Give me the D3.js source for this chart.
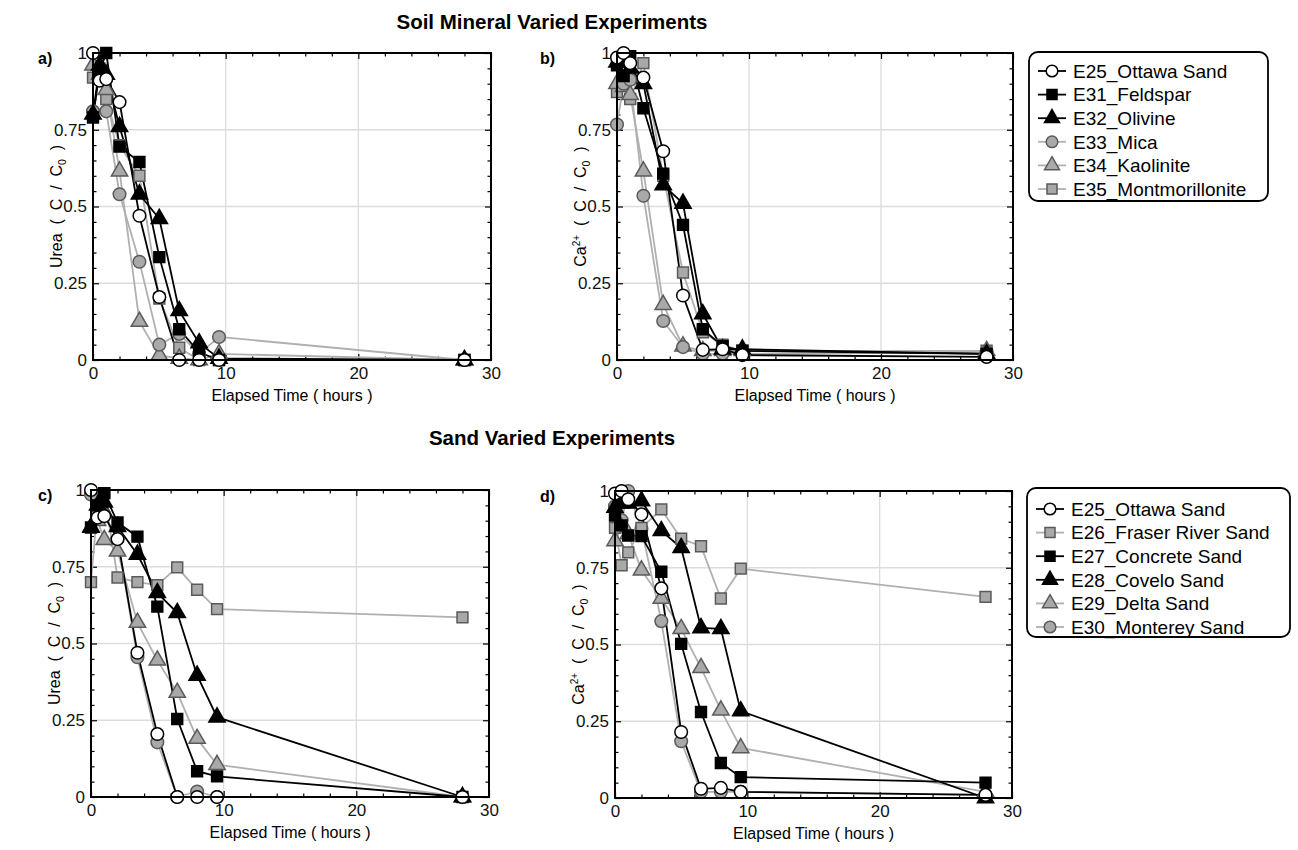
<!DOCTYPE html>
<html><head><meta charset="utf-8">
<script src="https://cdn.jsdelivr.net/npm/d3@7"></script>
<style>
body{margin:0;background:#fff}
text{font-family:"Liberation Sans",Arial,Helvetica,sans-serif}
.ytitle{white-space:pre}
</style>
</head><body>
<svg id="chart" width="1298" height="850"></svg>
<script>
// ---------------- DATA ----------------
const times = [0, 0.5, 1, 2, 3.5, 5, 6.5, 8, 9.5, 28];
const xMajorTicks = [0, 10, 20, 30];
const yMajorTicks = [0, 0.25, 0.5, 0.75, 1];

const mineralNames = ["E25_Ottawa Sand","E31_Feldspar","E32_Olivine","E33_Mica","E34_Kaolinite","E35_Montmorillonite"];
const sandNames = ["E25_Ottawa Sand","E26_Fraser River Sand","E27_Concrete Sand","E28_Covelo Sand","E29_Delta Sand","E30_Monterey Sand"];

// a) Urea, soil minerals
const ureaE25 = [1.0, 0.91, 0.915, 0.84, 0.47, 0.205, 0.0, 0.0, 0.0, 0.0];
const ureaE31 = [0.79, 0.94, 1.0, 0.695, 0.645, 0.335, 0.10, 0.025, 0.0, 0.0];
const ureaE32 = [0.80, 0.96, 0.93, 0.76, 0.54, 0.46, 0.16, 0.055, 0.005, 0.0];
const ureaE33 = [0.81, 0.93, 0.81, 0.54, 0.32, 0.05, 0.085, 0.02, 0.075, 0.0];
const ureaE34 = [0.96, 0.93, 0.88, 0.615, 0.125, 0.015, 0.005, 0.0, 0.02, 0.0];
const ureaE35 = [0.92, 0.95, 0.85, 0.70, 0.60, 0.20, 0.04, 0.0, 0.0, 0.0];

// b) Ca2+, soil minerals
const caE25 = [0.985, 1.0, 0.967, 0.92, 0.68, 0.21, 0.033, 0.035, 0.016, 0.01];
const caE31 = [0.96, 0.925, 0.99, 0.82, 0.607, 0.44, 0.10, 0.045, 0.03, 0.02];
const caE32 = [0.97, 0.97, 0.95, 0.90, 0.57, 0.51, 0.15, 0.035, 0.035, 0.02];
const caE33 = [0.767, 0.90, 0.913, 0.535, 0.127, 0.042, 0.02, 0.02, 0.02, 0.025];
const caE34 = [0.90, 0.89, 0.864, 0.615, 0.18, 0.045, 0.03, 0.03, 0.03, 0.03];
const caE35 = [0.873, 0.90, 0.85, 0.967, 0.60, 0.285, 0.09, 0.05, 0.03, 0.03];

// c) Urea, sands
const sUreaE25 = [1.0, 0.91, 0.915, 0.84, 0.47, 0.205, 0.0, 0.0, 0.0, 0.0];
const sUreaE26 = [0.70, 0.95, 0.99, 0.715, 0.70, 0.69, 0.748, 0.675, 0.612, 0.585];
const sUreaE27 = [0.878, 0.95, 0.99, 0.894, 0.848, 0.62, 0.254, 0.084, 0.067, 0.0];
const sUreaE28 = [0.878, 0.95, 0.96, 0.88, 0.79, 0.665, 0.60, 0.396, 0.26, 0.0];
const sUreaE29 = [0.88, 0.90, 0.838, 0.80, 0.568, 0.445, 0.34, 0.19, 0.105, 0.0];
const sUreaE30 = [0.985, 0.93, 0.92, 0.84, 0.455, 0.178, 0.0, 0.018, 0.0, 0.0];

// d) Ca2+, sands
const sCaE25 = [0.992, 1.0, 0.973, 0.924, 0.683, 0.215, 0.03, 0.033, 0.02, 0.01];
const sCaE26 = [0.88, 0.758, 0.80, 0.88, 0.94, 0.845, 0.82, 0.65, 0.747, 0.655];
const sCaE27 = [0.92, 0.888, 0.855, 0.853, 0.737, 0.502, 0.28, 0.114, 0.068, 0.05];
const sCaE28 = [0.946, 0.96, 0.96, 0.967, 0.87, 0.815, 0.554, 0.551, 0.283, 0.0];
const sCaE29 = [0.837, 0.88, 0.86, 0.742, 0.65, 0.551, 0.424, 0.286, 0.163, 0.02];
const sCaE30 = [0.95, 0.905, 1.0, 0.877, 0.576, 0.185, 0.02, 0.02, 0.02, 0.01];

// ---------------- STYLES ----------------
const BLACK = "#000", GRAYLINE = "#b0b0b0", GRAYFILL = "#a9a9a9", GRAYSTROKE = "#5a5a5a";
const styles = {
  E25: {shape: d3.symbolCircle, size: 125, fill: "#fff", stroke: BLACK, line: BLACK, z: 3},
  E31: {shape: d3.symbolSquare, size: 118, fill: BLACK, stroke: BLACK, line: BLACK, z: 2},
  E32: {shape: d3.symbolTriangle, size: 115, fill: BLACK, stroke: BLACK, line: BLACK, z: 2},
  E33: {shape: d3.symbolCircle, size: 125, fill: GRAYFILL, stroke: GRAYSTROKE, line: GRAYLINE, z: 1},
  E34: {shape: d3.symbolTriangle, size: 115, fill: GRAYFILL, stroke: GRAYSTROKE, line: GRAYLINE, z: 1},
  E35: {shape: d3.symbolSquare, size: 118, fill: GRAYFILL, stroke: GRAYSTROKE, line: GRAYLINE, z: 1},
  E26: {shape: d3.symbolSquare, size: 118, fill: GRAYFILL, stroke: GRAYSTROKE, line: GRAYLINE, z: 1},
  E27: {shape: d3.symbolSquare, size: 118, fill: BLACK, stroke: BLACK, line: BLACK, z: 2},
  E28: {shape: d3.symbolTriangle, size: 115, fill: BLACK, stroke: BLACK, line: BLACK, z: 2},
  E29: {shape: d3.symbolTriangle, size: 115, fill: GRAYFILL, stroke: GRAYSTROKE, line: GRAYLINE, z: 1},
  E30: {shape: d3.symbolCircle, size: 125, fill: GRAYFILL, stroke: GRAYSTROKE, line: GRAYLINE, z: 1}
};

const panels = [
  {label: "a)", ytitle: "urea", x0: 93, x1: 491, y0: 53, y1: 360, lx: 38, tx: 62,
   names: mineralNames, series: [ureaE25, ureaE31, ureaE32, ureaE33, ureaE34, ureaE35]},
  {label: "b)", ytitle: "ca", x0: 617, x1: 1013, y0: 53, y1: 360, lx: 540, tx: 586,
   names: mineralNames, series: [caE25, caE31, caE32, caE33, caE34, caE35]},
  {label: "c)", ytitle: "urea", x0: 91, x1: 489, y0: 490, y1: 797, lx: 38, tx: 60,
   names: sandNames, series: [sUreaE25, sUreaE26, sUreaE27, sUreaE28, sUreaE29, sUreaE30]},
  {label: "d)", ytitle: "ca", x0: 615, x1: 1012, y0: 491, y1: 798, lx: 540, tx: 584,
   names: sandNames, series: [sCaE25, sCaE26, sCaE27, sCaE28, sCaE29, sCaE30]}
];

const svg = d3.select("#chart");
const TICKFONT = 17, LABELFONT = 16;

function keyOf(name){ return name.slice(0,3); }

function drawPanel(p){
  const x = d3.scaleLinear().domain([0,30]).range([p.x0,p.x1]);
  const y = d3.scaleLinear().domain([0,1]).range([p.y1,p.y0]);
  const g = svg.append("g");
  // grid
  g.selectAll(".gx").data([10,20]).enter().append("line")
    .attr("x1", d=>x(d)).attr("x2", d=>x(d)).attr("y1", p.y0).attr("y2", p.y1)
    .attr("stroke", "#dcdcdc").attr("stroke-width", 1.3);
  g.selectAll(".gy").data([0.25,0.5,0.75]).enter().append("line")
    .attr("y1", d=>y(d)).attr("y2", d=>y(d)).attr("x1", p.x0).attr("x2", p.x1)
    .attr("stroke", "#dcdcdc").attr("stroke-width", 1.3);

  const xMinor = d3.range(0, 31, 2).filter(v=>xMajorTicks.indexOf(v)<0);
  const yMinor = d3.range(0, 1.0001, 0.05).map(v=>+v.toFixed(2)).filter(v=>yMajorTicks.indexOf(v)<0);

  function ax(axis, tf){
    const gg = g.append("g").attr("transform", tf).call(axis);
    gg.select(".domain").remove();
    gg.selectAll(".tick line").attr("stroke", BLACK).attr("stroke-width", 1.2);
    gg.selectAll("text").attr("font-size", TICKFONT).attr("fill", "#111")
      .style("font-family", '"Liberation Sans",Arial,sans-serif');
    return gg;
  }
  // bottom
  ax(d3.axisBottom(x).tickValues(xMajorTicks).tickSize(-6).tickPadding(7).tickFormat(d3.format("d")), `translate(0,${p.y1})`);
  ax(d3.axisBottom(x).tickValues(xMinor).tickSize(-3.5).tickFormat(""), `translate(0,${p.y1})`);
  // top
  ax(d3.axisTop(x).tickValues(xMajorTicks).tickSize(-6).tickFormat(""), `translate(0,${p.y0})`);
  ax(d3.axisTop(x).tickValues(xMinor).tickSize(-3.5).tickFormat(""), `translate(0,${p.y0})`);
  // left
  ax(d3.axisLeft(y).tickValues(yMajorTicks).tickSize(-6).tickPadding(6).tickFormat(d=>String(d)), `translate(${p.x0},0)`);
  ax(d3.axisLeft(y).tickValues(yMinor).tickSize(-3.5).tickFormat(""), `translate(${p.x0},0)`);
  // right
  ax(d3.axisRight(y).tickValues(yMajorTicks).tickSize(-6).tickFormat(""), `translate(${p.x1},0)`);
  ax(d3.axisRight(y).tickValues(yMinor).tickSize(-3.5).tickFormat(""), `translate(${p.x1},0)`);

  // series
  const order = p.names.map((n,i)=>({n, i, s: styles[keyOf(n)]}))
    .sort((a,b)=> a.s.z - b.s.z || b.i - a.i);
  const line = d3.line().x(d=>x(d[0])).y(d=>y(d[1]));
  order.forEach(o=>{
    const pts = times.map((t,k)=>[t, p.series[o.i][k]]);
    g.append("path").attr("d", line(pts)).attr("fill","none")
      .attr("stroke", o.s.line).attr("stroke-width", 1.8);
  });
  order.forEach(o=>{
    const pts = times.map((t,k)=>[t, p.series[o.i][k]]);
    g.selectAll(null).data(pts).enter().append("path")
      .attr("d", d3.symbol().type(o.s.shape).size(o.s.size))
      .attr("transform", d=>`translate(${x(d[0])},${y(d[1])})`)
      .attr("fill", o.s.fill).attr("stroke", o.s.stroke).attr("stroke-width", 1.5);
  });

  // frame
  g.append("rect").attr("x", p.x0).attr("y", p.y0).attr("width", p.x1-p.x0).attr("height", p.y1-p.y0)
    .attr("fill","none").attr("stroke", BLACK).attr("stroke-width", 2);

  // x title
  g.append("text").attr("x", (p.x0+p.x1)/2).attr("y", p.y1+41).attr("text-anchor","middle")
    .attr("font-size", LABELFONT).text("Elapsed Time ( hours )");

  // y title
  const yt = g.append("text").attr("class","ytitle")
    .attr("transform", `translate(${p.tx},${(p.y0+p.y1)/2}) rotate(-90)`)
    .attr("text-anchor","middle").attr("font-size", LABELFONT);
  if (p.ytitle === "urea") {
    yt.append("tspan").text("Urea  (  C  /  C");
  } else {
    yt.append("tspan").text("Ca");
    yt.append("tspan").attr("font-size", 10).attr("dy", -6).text("2+");
    yt.append("tspan").attr("dy", 6).text("  (  C  /  C");
  }
  yt.append("tspan").attr("font-size", 10.5).attr("dy", 4).text("0");
  yt.append("tspan").attr("dy", -4).text("  )");

  // panel label
  g.append("text").attr("x", p.lx).attr("y", p.y0+11).attr("font-size", 16)
    .attr("font-weight","bold").text(p.label);
}

panels.forEach(drawPanel);

// Titles
svg.append("text").attr("x", 552).attr("y", 29).attr("text-anchor","middle")
  .attr("font-size", 20.5).attr("font-weight","bold").text("Soil Mineral Varied Experiments");
svg.append("text").attr("x", 552).attr("y", 445).attr("text-anchor","middle")
  .attr("font-size", 20.5).attr("font-weight","bold").text("Sand Varied Experiments");

// Legends
function legend(names, bx, by, bw, bh, rowY0, step){
  const g = svg.append("g");
  g.append("rect").attr("x", bx).attr("y", by).attr("width", bw).attr("height", bh)
    .attr("rx", 9).attr("fill","#fff").attr("stroke", BLACK).attr("stroke-width", 1.8);
  names.forEach((n,i)=>{
    const s = styles[keyOf(n)];
    const yy = rowY0 + i*step;
    g.append("line").attr("x1", bx+9).attr("x2", bx+37).attr("y1", yy).attr("y2", yy)
      .attr("stroke", s.line).attr("stroke-width", 1.8);
    g.append("path").attr("d", d3.symbol().type(s.shape).size(s.size*0.85))
      .attr("transform", `translate(${bx+23},${yy})`)
      .attr("fill", s.fill).attr("stroke", s.stroke).attr("stroke-width", 1.5);
    g.append("text").attr("x", bx+44).attr("y", yy+6.8).attr("font-size", 19).text(n);
  });
}
legend(mineralNames, 1029, 52, 239, 149, 71, 23.6);
legend(sandNames, 1027, 488, 263, 149, 509, 23.6);
</script>
</body></html>
